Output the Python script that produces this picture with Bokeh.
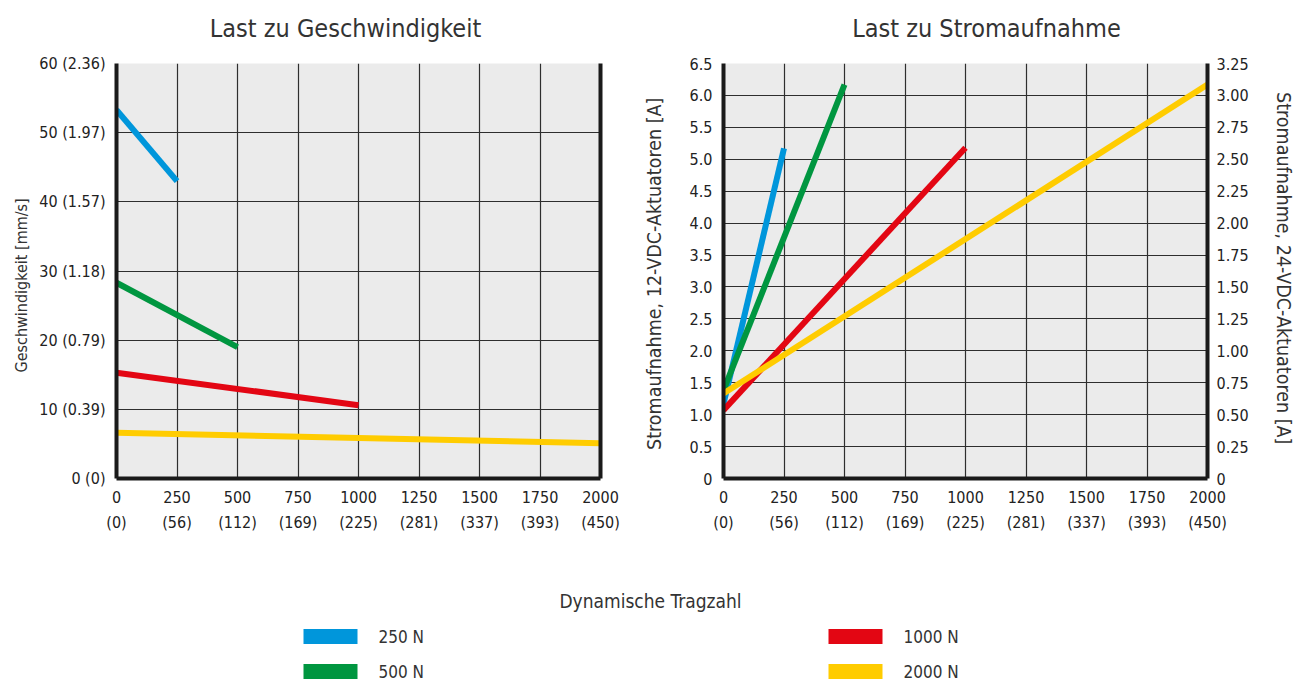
from bokeh.plotting import figure
from bokeh.models import Range1d, LinearAxis, FixedTicker, Title
from bokeh.layouts import column, row
from bokeh.embed import file_html
from bokeh.resources import INLINE
from bokeh.core.properties import value

FONT = "'DejaVu Sans Condensed', 'Roboto Condensed', 'Liberation Sans Narrow', Roboto, sans-serif"
TXT = "#222222"
AXC = "#1a1a1a"
GRID = "#2e2e2e"
BG = "#ebebeb"

# ---------------- data ----------------
titles = ["Last zu Geschwindigkeit", "Last zu Stromaufnahme"]
loads = ["250 N", "500 N", "1000 N", "2000 N"]
colors = ["#0096db", "#009640", "#e30613", "#ffcc00"]
load_x = [[0, 250], [0, 500], [0, 1000], [0, 2000]]
speed = [[53.3, 43.0], [28.3, 19.0], [15.3, 10.6], [6.6, 5.1]]
current = [[1.17, 5.17], [1.38, 6.17], [1.07, 5.18], [1.33, 6.17]]

x_ticks = [0, 250, 500, 750, 1000, 1250, 1500, 1750, 2000]
x_sub_labels = ["(0)", "(56)", "(112)", "(169)", "(225)", "(281)", "(337)", "(393)", "(450)"]
speed_ticks = [0, 10, 20, 30, 40, 50, 60]
speed_labels = ["0 (0)", "10 (0.39)", "20 (0.79)", "30 (1.18)", "40 (1.57)", "50 (1.97)", "60 (2.36)"]
cur12_ticks = [0, 0.5, 1, 1.5, 2, 2.5, 3, 3.5, 4, 4.5, 5, 5.5, 6, 6.5]
cur12_labels = ["0", "0.5", "1.0", "1.5", "2.0", "2.5", "3.0", "3.5", "4.0", "4.5", "5.0", "5.5", "6.0", "6.5"]
cur24_ticks = [0, 0.25, 0.5, 0.75, 1, 1.25, 1.5, 1.75, 2, 2.25, 2.5, 2.75, 3, 3.25]
cur24_labels = ["0", "0.25", "0.50", "0.75", "1.00", "1.25", "1.50", "1.75", "2.00", "2.25", "2.50", "2.75", "3.00", "3.25"]

TICK_FS = "16px"
PAGE_W = 1303
TITLE_H = 50
FRAME_H = 415
TOP, BOTTOM_BORDER = 13, 72


def style_axis(ax, ticks, labels, line=True, standoff=8, label_fs="16px"):
    ax.ticker = FixedTicker(ticks=ticks)
    ax.major_label_overrides = {t: l for t, l in zip(ticks, labels)}
    ax.major_tick_line_color = None
    ax.minor_tick_line_color = None
    ax.axis_line_color = AXC if line else None
    ax.axis_line_width = 4
    ax.major_label_text_font = FONT
    ax.major_label_text_font_size = TICK_FS
    ax.major_label_text_color = TXT
    ax.major_label_standoff = standoff
    ax.axis_label_text_font = FONT
    ax.axis_label_text_font_size = label_fs
    ax.axis_label_text_font_style = "normal"
    ax.axis_label_text_color = "#333333"


def make_fig(y_end, yticks, ylabels, width, bl, br, y_standoff):
    p = figure(width=width, height=TOP + FRAME_H + BOTTOM_BORDER, x_range=Range1d(0, 2000),
               y_range=Range1d(0, y_end), output_backend="svg", toolbar_location=None,
               min_border_left=bl, min_border_right=br, min_border_top=TOP,
               min_border_bottom=BOTTOM_BORDER,
               background_fill_color=BG, border_fill_color="white", outline_line_color=None)
    style_axis(p.xaxis[0], x_ticks, [str(t) for t in x_ticks], standoff=6)
    sub = LinearAxis()
    style_axis(sub, x_ticks, x_sub_labels, line=False, standoff=1)
    p.add_layout(sub, "below")
    style_axis(p.yaxis[0], yticks, ylabels, standoff=y_standoff)
    p.xgrid.ticker = FixedTicker(ticks=x_ticks)
    p.ygrid.ticker = FixedTicker(ticks=yticks)
    for g in (p.xgrid[0], p.ygrid[0]):
        g.grid_line_color = GRID
        g.grid_line_width = 1.2
    return p


# ---------------- title strip ----------------
t = figure(width=PAGE_W, height=TITLE_H, x_range=Range1d(0, PAGE_W), y_range=Range1d(TITLE_H, 0),
           output_backend="svg", toolbar_location=None, x_axis_type=None, y_axis_type=None,
           min_border=0, outline_line_color=None, background_fill_color="white")
t.grid.visible = False
t.text(x=[345, 986], y=[28, 28], text=titles, text_font=value(FONT), text_font_size="25px",
       text_align="center", text_baseline="middle", text_color="#333333")

# ---------------- left chart ----------------
p1 = make_fig(60, speed_ticks, speed_labels, 628, 116, 28, 5)
p1.add_layout(Title(text="Geschwindigkeit [mm/s]", align="left", offset=106, standoff=12,
                    text_font=FONT, text_font_size="16px", text_font_style="normal",
                    text_color="#333333"), "left")
rb = LinearAxis(ticker=FixedTicker(ticks=[]))
rb.major_label_text_font_size = "0px"
rb.major_tick_line_color = None
rb.minor_tick_line_color = None
rb.axis_line_color = AXC
rb.axis_line_width = 4
p1.add_layout(rb, "right")
for xs, ys, c in zip(load_x, speed, colors):
    p1.line(xs, ys, line_color=c, line_width=6)

# ---------------- right chart ----------------
p2 = make_fig(6.5, cur12_ticks, cur12_labels, 675, 95, 96, 5)
p2.yaxis[0].axis_label = "Stromaufnahme, 12-VDC-Aktuatoren  [A]"
p2.yaxis[0].axis_label_text_font_size = "19.5px"
p2.yaxis[0].axis_label_standoff = 21
p2.extra_y_ranges = {"a24": Range1d(0, 3.25)}
ax24 = LinearAxis(y_range_name="a24", axis_label="Stromaufnahme, 24-VDC-Aktuatoren  [A]")
style_axis(ax24, cur24_ticks, cur24_labels, standoff=3, label_fs="19.5px")
ax24.axis_label_standoff = 20
p2.add_layout(ax24, "right")
for xs, ys, c in zip(load_x, current, colors):
    p2.line(xs, ys, line_color=c, line_width=6)

# ---------------- legend ----------------
LH = 132
p3 = figure(width=PAGE_W, height=LH, x_range=Range1d(0, PAGE_W), y_range=Range1d(LH, 0),
            output_backend="svg", toolbar_location=None, x_axis_type=None, y_axis_type=None,
            min_border=0, outline_line_color=None, background_fill_color="white")
p3.grid.visible = False
p3.text(x=[650], y=[50], text=["Dynamische Tragzahl"], text_font=value(FONT), text_font_size="19px",
        text_align="center", text_baseline="middle", text_color="#333333")
col_x = [303, 303, 828, 828]
row_y = [86, 121, 86, 121]
p3.quad(left=col_x, right=[c + 54 for c in col_x], top=[r - 7.5 for r in row_y],
        bottom=[r + 7.5 for r in row_y], fill_color=colors, line_color=None)
p3.text(x=[c + 75 for c in col_x], y=row_y, text=loads, text_font=value(FONT), text_font_size="17px",
        text_align="left", text_baseline="middle", text_color="#333333")

layout = column(t, row(p1, p2), p3)
open("out.html", "w").write(file_html(layout, INLINE))
